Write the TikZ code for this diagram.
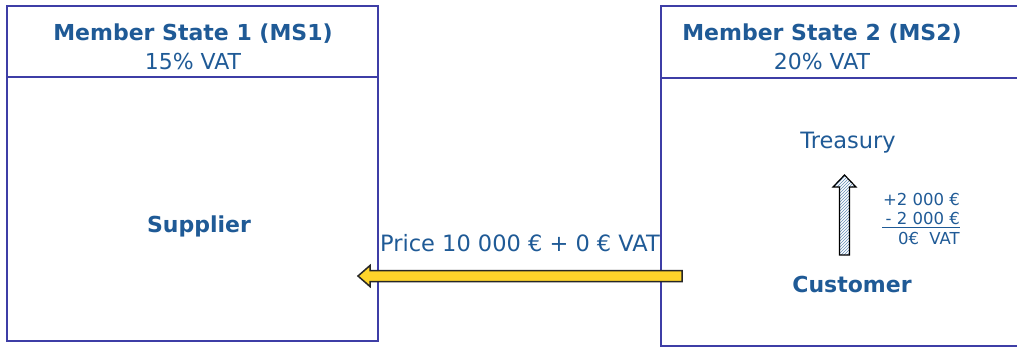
\documentclass[tikz,border=0pt]{standalone}
\usepackage{fontspec}
\setmainfont{DejaVu Sans}
\usetikzlibrary{patterns}
\definecolor{msblue}{HTML}{1F5A96}
\definecolor{frameblue}{HTML}{3E3EA6}
\definecolor{gold}{HTML}{FFD42A}
\tikzset{
  frame/.style={draw=frameblue, line width=1.9pt},
  title/.style={text=msblue, font=\bfseries\fontsize{22}{26}\selectfont, inner sep=0pt},
  rate/.style={text=msblue, font=\fontsize{22}{26}\selectfont, inner sep=0pt},
  party/.style={text=msblue, font=\bfseries\fontsize{22}{26}\selectfont, inner sep=0pt},
  small/.style={text=msblue, font=\fontsize{16.5}{20}\selectfont, inner sep=0pt}
}
\begin{document}
\begin{tikzpicture}[x=1pt,y=-1pt]
        \useasboundingbox (0,0) rectangle (1017,349);
        \clip (0,0) rectangle (1017,349);
        % the two member states
        \draw[frame] (7,6) rectangle (378,341); \draw[frame] (7,77)--(378,77);
        \draw[frame] (661,6) rectangle (1030,346); \draw[frame] (661,78)--(1030,78);
        \node[title] (ms1) at (193,34) {Member State 1 (MS1)};
        \node[rate] (vat1) at (193,61) {15\% VAT};
        \node[title] (ms2) at (822,34) {Member State 2 (MS2)};
        \node[rate] (vat2) at (822,61) {20\% VAT};
        \node[party] (supplier) at (199,226) {Supplier};
        \node[party] (customer) at (852,284) {Customer};
        \node[rate,font=\fontsize{22.5}{26}\selectfont] (treasury) at (848,143) {Treasury};
        % payment
        \node[rate,font=\fontsize{22.5}{26}\selectfont] (price) at (520,243) {Price 10 000 € + 0 € VAT};
        \coordinate (pay) at (682,276);
        \draw[fill=gold, draw=black!85, line width=1.5pt, line join=miter] (pay) ++(0,-5.5) -- ++(-312,0) -- ++(0,-5) -- ++(-12,10.5)
            -- ++(12,10.5) -- ++(0,-5) -- ++(312,0) -- cycle;
        % tax
        \coordinate (tax) at (844.5,255);
        \draw[pattern=north east lines, pattern color=msblue!70, line width=1.2pt] (tax) ++(-5,0) -- ++(0,-68) -- ++(-6.5,0)
            -- ++(11.5,-12) -- ++(11.5,12) -- ++(-6.5,0) -- ++(0,68) -- cycle;
        \node[small,anchor=east] (plus) at (960,199) {+2 000 €};
        \node[small,anchor=east] (minus) at (960,218) {- 2 000 €};
        \node[small,anchor=east] (zero) at (960,238) {0€~ VAT};
        \draw[msblue, line width=0.9pt] (882,227) -- (960,227);
    \end{tikzpicture}
\end{document}
